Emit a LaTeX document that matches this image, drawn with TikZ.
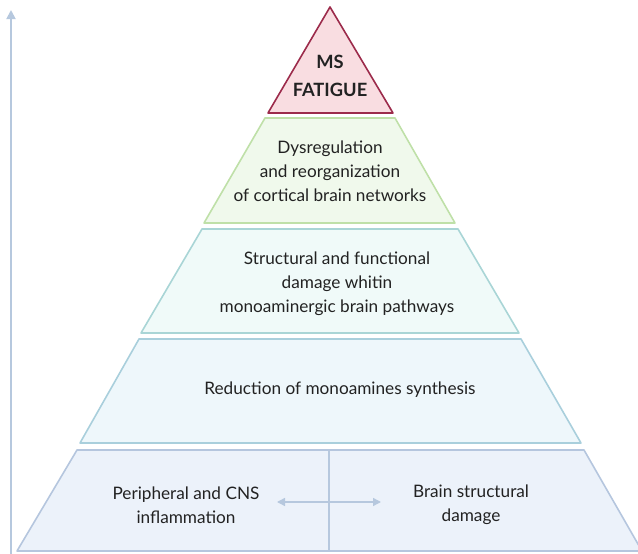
\documentclass[tikz,border=0pt]{standalone}
\usepackage{fontspec}
\setmainfont{Lato}
\usetikzlibrary{arrows.meta}
\definecolor{tipink}{HTML}{F9DDE1}
\definecolor{tired}{HTML}{9C2B4B}
\definecolor{gfill}{HTML}{F0F9EC}
\definecolor{gline}{HTML}{BFE0A8}
\definecolor{cfill}{HTML}{F0FAF9}
\definecolor{cline}{HTML}{A9D5D6}
\definecolor{bfill}{HTML}{EEF7FB}
\definecolor{bline}{HTML}{A9CFDC}
\definecolor{lfill}{HTML}{ECF2FA}
\definecolor{lline}{HTML}{B5C6DE}
\definecolor{axc}{HTML}{B6C8DE}
\definecolor{txt}{HTML}{222222}
\tikzset{
  lvl/.style={line width=1.6pt, line join=round},
  lbl/.style={align=center, text=txt, font=\fontsize{17.2}{24}\selectfont, inner sep=0pt},
  ax/.style={draw=axc, line width=1.8pt},
}
\begin{document}
\begin{tikzpicture}[x=1pt,y=-1pt]
\useasboundingbox (0,0) rectangle (638,554);
% levels
\draw[lvl, draw=tired, fill=tipink] (330,7) -- (393,113) -- (268,113) -- cycle;
\draw[lvl, draw=gline, fill=gfill] (265,118) -- (395,118) -- (455,223) -- (204,223) -- cycle;
\draw[lvl, draw=cline, fill=cfill] (202,229) -- (458,229) -- (519,333) -- (141,333) -- cycle;
\draw[lvl, draw=bline, fill=bfill] (139,339) -- (521,339) -- (581,443) -- (80,443) -- cycle;
\draw[lvl, draw=lline, fill=lfill] (77,450) -- (584,450) -- (642,551) -- (17,551) -- cycle;
% divider
\coordinate (dtop) at (329,451);
\coordinate (dbot) at (329,550);
\draw[ax, line width=1.5pt] (dtop) -- (dbot);
% axis
\coordinate (abot) at (11,554);
\coordinate (atop) at (11,10);
\draw[ax, -{Triangle[width=9pt,length=9pt]}] (abot) -- (atop);
% texts
\node[lbl, font=\bfseries\fontsize{18.3}{28}\selectfont] (ms) at (330,76) {MS\\FATIGUE};
\node[lbl] (dys) at (330,171) {Dysregulation\\and reorganization\\of cortical brain networks};
\node[lbl] (str) at (337,284) {Structural and functional\\damage whitin\\monoaminergic brain pathways};
\node[lbl] (red) at (340,390) {Reduction of monoamines synthesis};
\node[lbl] (per) at (186,505) {Peripheral and CNS\\inflammation};
\node[lbl] (bra) at (471,505) {Brain structural\\damage};
\coordinate (al) at (277,502);
\coordinate (ar) at (381,502);
\draw[ax, line width=1.4pt, {Triangle[width=8pt,length=8pt]}-{Triangle[width=8pt,length=8pt]}] (al) -- (ar);
\end{tikzpicture}
\end{document}
